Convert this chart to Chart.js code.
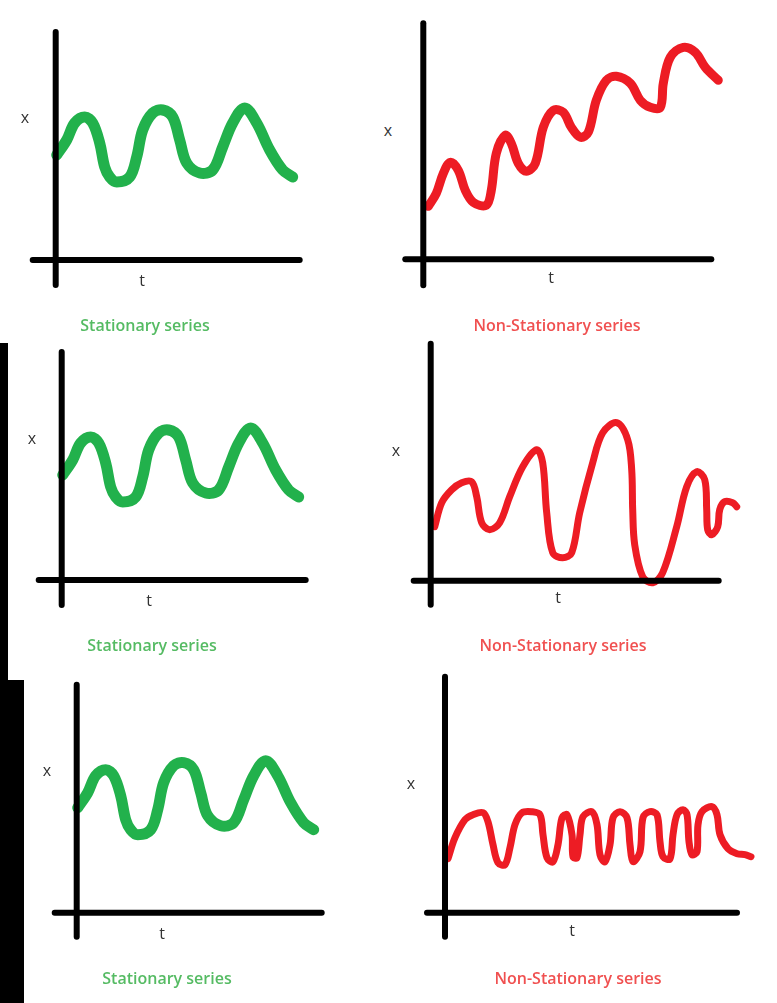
<!DOCTYPE html>
<html>
<head>
<meta charset="utf-8">
<script src="https://cdn.jsdelivr.net/npm/chart.js@4.4.1/dist/chart.umd.min.js"></script>
<style>
  html, body { margin: 0; padding: 0; background: #ffffff; }
  body { width: 777px; height: 1003px; position: relative; overflow: hidden; font-family: "Open Sans", "Noto Sans", sans-serif; }
  canvas { position: absolute; }
  .lbl { position: absolute; transform: translate(-50%, -50%); color: #333; font-size: 16px; line-height: 1; white-space: nowrap; }
  .cap { position: absolute; transform: translate(-50%, -50%); font-size: 16px; font-weight: 600; line-height: 1; white-space: nowrap; }
  .bar { position: absolute; background: #000; }
</style>
</head>
<body>
<div class="bar" style="left:0;top:343px;width:8px;height:337px"></div>
<div class="bar" style="left:0;top:680px;width:24px;height:323px"></div>
<script>
// ---- data (t = time, x = value) ----
const stationaryT = [0.1, 1.1, 1.9, 2.9, 3.7, 4.4, 4.9, 5.4, 6.1, 7.4, 8.1, 8.7, 9.7, 10.7, 11.7, 12.4, 13.1, 14.4, 15.7, 16.7, 17.7, 18.9, 20.1, 21.4, 22.7, 23.7];
const stationaryX = [10.5, 12.0, 13.7, 14.3, 13.7, 11.7, 9.3, 8.3, 7.8, 8.3, 10.3, 13.0, 14.7, 15.0, 14.3, 12.0, 9.7, 8.7, 9.0, 11.3, 13.7, 15.2, 13.7, 11.0, 9.0, 8.3];

const trendT = [0.5, 1.3, 2.0, 2.7, 3.5, 4.2, 5.0, 6.3, 6.8, 7.3, 8.2, 8.8, 9.5, 10.3, 11.2, 12.0, 13.0, 14.0, 14.8, 15.7, 16.5, 17.3, 18.3, 19.3, 20.7, 21.7, 22.7, 23.7, 24.0, 24.7, 26.0, 27.2, 28.2, 29.5];
const trendX = [5.3, 6.6, 8.6, 9.7, 8.9, 6.9, 5.7, 5.4, 6.9, 10.6, 12.4, 11.6, 9.6, 8.8, 9.6, 13.2, 14.9, 14.7, 13.2, 12.2, 12.7, 15.9, 17.9, 18.3, 17.6, 15.9, 15.2, 15.2, 17.6, 20.2, 21.2, 20.7, 19.2, 17.9];

const varianceT = [0.4, 1.1, 2.1, 3.1, 4.1, 4.6, 5.1, 5.9, 6.9, 7.9, 9.2, 10.6, 11.2, 11.6, 12.2, 13.2, 14.1, 14.9, 16.2, 17.2, 18.6, 19.7, 20.1, 20.2, 20.4, 21.2, 22.2, 23.2, 24.6, 25.6, 26.6, 27.4, 27.6, 27.7, 28.1, 28.7, 28.9, 29.4, 30.2, 30.6];
const varianceX = [5.4, 7.8, 9.1, 9.8, 9.9, 8.4, 5.8, 5.1, 5.8, 8.4, 11.4, 13.1, 11.8, 6.8, 2.8, 2.3, 2.8, 6.8, 11.8, 14.8, 15.8, 14.1, 11.1, 7.1, 3.6, 0.4, -0.2, 0.8, 5.4, 9.4, 10.9, 10.1, 7.1, 5.1, 4.6, 5.4, 7.1, 7.9, 7.8, 7.4];

const frequencyT = [0.3, 1.0, 2.0, 2.8, 3.8, 4.3, 4.8, 5.3, 6.0, 6.5, 7.0, 7.7, 8.7, 9.5, 9.8, 10.2, 10.8, 11.3, 11.7, 12.2, 12.7, 12.8, 13.2, 13.5, 13.8, 14.7, 15.2, 15.5, 16.0, 16.5, 16.8, 17.5, 18.2, 18.5, 18.8, 19.5, 19.8, 20.5, 21.2, 21.5, 21.8, 22.5, 22.8, 23.2, 23.8, 24.2, 24.4, 24.7, 25.2, 25.3, 25.7, 26.7, 27.2, 27.5, 28.3, 29.2, 30.0, 30.6];
const frequencyX = [5.4, 7.5, 9.3, 9.8, 10.0, 9.1, 6.8, 5.0, 4.8, 6.5, 8.8, 10.0, 10.1, 9.8, 7.8, 5.5, 5.1, 6.8, 9.5, 9.8, 7.8, 5.6, 5.5, 7.8, 9.6, 10.1, 8.8, 5.8, 5.1, 6.8, 9.5, 10.1, 9.5, 6.8, 5.1, 6.1, 9.5, 10.1, 9.8, 7.1, 5.6, 5.4, 7.8, 9.8, 10.3, 9.8, 7.1, 5.8, 6.1, 8.8, 10.1, 10.6, 9.8, 7.8, 6.4, 5.9, 5.8, 5.6];

// axis extents (t range of the time axis, x range of the value axis)
const shortAxisT = [-2.3, 24.4];
const shortAxisX = [-2.5, 22.8];
const longAxisT = [-1.8, 28.8];
const longAxisX = [-2.6, 23.6];
const longAxisT6 = [-1.8, 29.2];

const axisLabels = ["x", "t"];
const captions = ["Stationary series", "Non-Stationary series"];

// ---- layout ----
const PX = 10; // pixels per data unit
const GREEN = "#22b14c";
const RED = "#ed1c24";

const panels = [
  { box: [20, 20, 300, 275], origin: [55.7, 260], t: stationaryT, x: stationaryX, at: shortAxisT, ax: shortAxisX, color: GREEN, w: 11,
    xl: [25, 117], tl: [142, 280], cap: [145, 325], capText: captions[0], capColor: "#55bb63" },
  { box: [395, 15, 340, 280], origin: [423.3, 259.3], t: trendT, x: trendX, at: longAxisT, ax: longAxisX, color: RED, w: 9,
    xl: [388, 130], tl: [551, 277], cap: [557, 325], capText: captions[1], capColor: "#f05050" },
  { box: [25, 340, 300, 275], origin: [61.7, 580], t: stationaryT, x: stationaryX, at: shortAxisT, ax: shortAxisX, color: GREEN, w: 11,
    xl: [32, 438], tl: [149, 600], cap: [152, 645], capText: captions[0], capColor: "#55bb63" },
  { box: [400, 335, 350, 280], origin: [430.7, 580.7], t: varianceT, x: varianceX, at: [-1.7, 28.8], ax: [-2.4, 23.7], color: RED, w: 7,
    xl: [396, 450], tl: [558, 597], cap: [563, 645], capText: captions[1], capColor: "#f05050" },
  { box: [40, 672, 300, 275], origin: [76.7, 912.7], t: stationaryT, x: stationaryX, at: [-2.2, 24.5], ax: [-2.4, 22.8], color: GREEN, w: 11,
    xl: [47, 770], tl: [162, 933], cap: [167, 978], capText: captions[0], capColor: "#55bb63" },
  { box: [415, 665, 350, 280], origin: [445, 912.7], t: frequencyT, x: frequencyX, at: longAxisT6, ax: [-2.4, 23.6], color: RED, w: 7,
    xl: [411, 783], tl: [572, 930], cap: [578, 978], capText: captions[1], capColor: "#f05050" }
];

function addText(cls, pos, text, color) {
  const d = document.createElement("div");
  d.className = cls;
  d.style.left = pos[0] + "px";
  d.style.top = pos[1] + "px";
  if (color) d.style.color = color;
  d.textContent = text;
  document.body.appendChild(d);
}

panels.forEach(p => {
  const [L, T, W, H] = p.box;
  const [ox, oy] = p.origin;
  const c = document.createElement("canvas");
  c.width = W; c.height = H;
  c.style.left = L + "px"; c.style.top = T + "px";
  c.style.width = W + "px"; c.style.height = H + "px";
  document.body.appendChild(c);

  const series = p.t.map((tv, i) => ({ x: tv, y: p.x[i] }));
  new Chart(c.getContext("2d"), {
    type: "line",
    data: {
      datasets: [
        { data: [{ x: p.at[0], y: 0 }, { x: p.at[1], y: 0 }], borderColor: "#000", borderWidth: 6, borderCapStyle: "round", tension: 0 },
        { data: [{ x: 0, y: p.ax[0] }, { x: 0, y: p.ax[1] }], borderColor: "#000", borderWidth: 6, borderCapStyle: "round", tension: 0 },
        { data: series, borderColor: p.color, borderWidth: p.w, borderCapStyle: "round", borderJoinStyle: "round", tension: 0.35 }
      ]
    },
    options: {
      responsive: false,
      animation: false,
      devicePixelRatio: 1,
      events: [],
      layout: { padding: 0 },
      elements: { point: { radius: 0 } },
      plugins: { legend: { display: false }, tooltip: { enabled: false } },
      scales: {
        x: { type: "linear", display: false, min: (L - ox) / PX, max: (L + W - ox) / PX },
        y: { type: "linear", display: false, min: (oy - (T + H)) / PX, max: (oy - T) / PX }
      }
    }
  });

  addText("lbl", p.xl, axisLabels[0]);
  addText("lbl", p.tl, axisLabels[1]);
  addText("cap", p.cap, p.capText, p.capColor);
});
</script>
</body>
</html>
